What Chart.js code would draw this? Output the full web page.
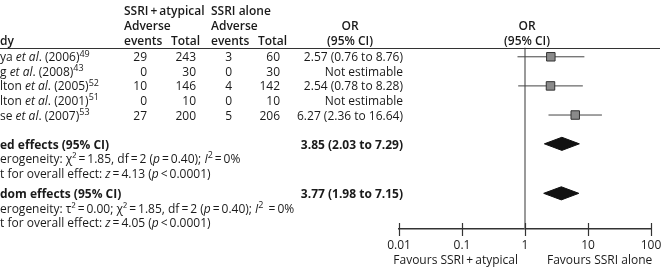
<!DOCTYPE html>
<html>
<head>
<meta charset="utf-8">
<script src="https://cdn.jsdelivr.net/npm/chart.js@4.4.1/dist/chart.umd.min.js"></script>
<style>
  html, body { margin: 0; padding: 0; background: #fff; }
  #wrap { width: 662px; height: 269px; }
</style>
</head>
<body>
<div id="wrap"><canvas id="c" width="662" height="269"></canvas></div>
<script>
// ---------------- data ----------------
const studyNames = [
  'ya *et al*. (2006)^49^',
  'g *et al*. (2008)^43^',
  'lton *et al*. (2005)^52^',
  'lton *et al*. (2001)^51^',
  'se *et al*. (2007)^53^'
];
const comboEvents = [29, 0, 10, 0, 27];
const comboTotal  = [243, 30, 146, 10, 200];
const aloneEvents = [3, 0, 4, 0, 5];
const aloneTotal  = [60, 30, 142, 10, 206];
const orEst  = [2.57, null, 2.54, null, 6.27];
const orLow  = [0.76, null, 0.78, null, 2.36];
const orHigh = [8.76, null, 8.28, null, 16.64];

const pooledNames = ['ed effects (95% CI)', 'dom effects (95% CI)'];
const pooledEst  = [3.85, 3.77];
const pooledLow  = [2.03, 1.98];
const pooledHigh = [7.29, 7.15];
const pooledHet = [
  'erogeneity: χ²\u2009=\u20091.85, df\u2009=\u20092 (*p*\u2009=\u20090.40); *I*^2^\u2009=\u20090%',
  'erogeneity: τ²\u2009=\u20090.00; χ²\u2009=\u20091.85, df\u2009=\u20092 (*p*\u2009=\u20090.40); *I*^2^ \u2009=\u20090%'
];
const pooledTest = [
  't for overall effect: *z*\u2009=\u20094.13 (*p*\u2009<\u20090.0001)',
  't for overall effect: *z*\u2009=\u20094.05 (*p*\u2009<\u20090.0001)'
];

const xTickValues = [0.01, 0.1, 1, 10, 100];
const xTickLabels = ['0.01', '0.1', '1', '10', '100'];
const favourLabels = ['Favours SSRI\u2009+\u2009atypical', 'Favours SSRI alone'];

// ---------------- row layout (row units) ----------------
const studyRows  = [0, 1, 2, 3, 4];
const pooledRows = [6, 9.4];
const Y_MIN = -3.5, Y_MAX = 11.75;   // top of canvas .. axis line
const HEADER_LINE = -0.7;

const FONT = "'Open Sans', 'Noto Sans', sans-serif";
const TXT = '#1a1a1a';

function fmtOR(e, l, h) {
  if (e == null) return 'Not estimable';
  return e.toFixed(2) + ' (' + l.toFixed(2) + ' to ' + h.toFixed(2) + ')';
}

// ---------------- datasets ----------------
const datasets = [];
// squares
datasets.push({
  data: studyRows.map((r, i) => orEst[i] == null ? null : { x: orEst[i], y: r - 0.08 }).filter(Boolean),
  pointStyle: 'rect', pointRadius: 6, pointBackgroundColor: '#8a8a8a',
  pointBorderColor: '#333', pointBorderWidth: 1, showLine: false, order: 0
});
// whiskers
studyRows.forEach((r, i) => {
  if (orEst[i] == null) return;
  datasets.push({
    data: [{ x: orLow[i], y: r - 0.08 }, { x: orHigh[i], y: r - 0.08 }],
    showLine: true, borderColor: '#444', borderWidth: 1, pointRadius: 0, order: 1
  });
});
// diamonds
pooledRows.forEach((r, i) => {
  const h = 0.45;
  const c = r - 0.1;
  datasets.push({
    data: [
      { x: pooledLow[i], y: c }, { x: pooledEst[i], y: c - h },
      { x: pooledHigh[i], y: c }, { x: pooledEst[i], y: c + h },
      { x: pooledLow[i], y: c }
    ],
    showLine: true, fill: 'shape', tension: 0,
    backgroundColor: '#111', borderColor: '#111', borderWidth: 1,
    pointRadius: 0, order: 0
  });
});
// line of no effect
datasets.push({
  data: [{ x: 1, y: HEADER_LINE }, { x: 1, y: Y_MAX }],
  showLine: true, borderColor: '#7a7a7a', borderWidth: 1.5, pointRadius: 0, order: 2
});

// ---------------- rich text helper ----------------
function parseRich(str) {
  const parts = str.split(/(\*[^*]+\*|\^[^^]+\^)/).filter(s => s.length);
  return parts.map(p => {
    if (p[0] === '*') return { t: p.slice(1, -1), st: 'i' };
    if (p[0] === '^') return { t: p.slice(1, -1), st: 'sup' };
    return { t: p, st: 'n' };
  });
}
function drawRich(ctx, str, x, y, align, weight) {
  const segs = parseRich(str);
  const w = weight || 'normal';
  const fontOf = s => s.st === 'i' ? `italic ${w} 12px ${FONT}` :
                     s.st === 'sup' ? `${w} 9px ${FONT}` : `${w} 12px ${FONT}`;
  let total = 0;
  segs.forEach(s => { ctx.font = fontOf(s); total += ctx.measureText(s.t).width; });
  let cx = align === 'right' ? x - total : align === 'center' ? x - total / 2 : x;
  ctx.textAlign = 'left';
  ctx.textBaseline = 'middle';
  segs.forEach(s => {
    ctx.font = fontOf(s);
    ctx.fillText(s.t, cx, s.st === 'sup' ? y - 4 : y);
    cx += ctx.measureText(s.t).width;
  });
}

// ---------------- text / annotation plugin ----------------
const forestText = {
  id: 'forestText',
  afterDraw(chart) {
    const { ctx, scales: { x, y }, chartArea } = chart;
    const Y = k => y.getPixelForValue(k);
    ctx.save();
    ctx.fillStyle = TXT;

    // headers
    const hb = '600';
    drawRich(ctx, 'SSRI\u2009+\u2009atypical', 124, Y(-3.17), 'left', hb);
    drawRich(ctx, 'SSRI alone', 211, Y(-3.17), 'left', hb);
    drawRich(ctx, 'Adverse', 124, Y(-2.13), 'left', hb);
    drawRich(ctx, 'Adverse', 211, Y(-2.13), 'left', hb);
    drawRich(ctx, 'OR', 350, Y(-2.13), 'center', hb);
    drawRich(ctx, 'OR', 527, Y(-2.13), 'center', hb);
    drawRich(ctx, 'dy', 0, Y(-1.1), 'left', hb);
    drawRich(ctx, 'events', 124, Y(-1.1), 'left', hb);
    drawRich(ctx, 'Total', 171, Y(-1.1), 'left', hb);
    drawRich(ctx, 'events', 211, Y(-1.1), 'left', hb);
    drawRich(ctx, 'Total', 258, Y(-1.1), 'left', hb);
    drawRich(ctx, '(95% CI)', 350, Y(-1.1), 'center', hb);
    drawRich(ctx, '(95% CI)', 527, Y(-1.1), 'center', hb);

    // header rule
    ctx.strokeStyle = '#333';
    ctx.lineWidth = 1;
    ctx.beginPath();
    ctx.moveTo(0, Math.round(Y(HEADER_LINE)) + 0.5);
    ctx.lineTo(660, Math.round(Y(HEADER_LINE)) + 0.5);
    ctx.stroke();

    // study rows
    studyRows.forEach((r, i) => {
      const yy = Y(r);
      drawRich(ctx, studyNames[i], 0, yy, 'left');
      drawRich(ctx, String(comboEvents[i]), 147, yy, 'right');
      drawRich(ctx, String(comboTotal[i]), 196, yy, 'right');
      drawRich(ctx, String(aloneEvents[i]), 232, yy, 'right');
      drawRich(ctx, String(aloneTotal[i]), 280, yy, 'right');
      drawRich(ctx, fmtOR(orEst[i], orLow[i], orHigh[i]), 403, yy, 'right');
    });

    // pooled
    pooledRows.forEach((r, i) => {
      drawRich(ctx, pooledNames[i], 0, Y(r), 'left', 'bold');
      drawRich(ctx, fmtOR(pooledEst[i], pooledLow[i], pooledHigh[i]), 403, Y(r), 'right', 'bold');
      drawRich(ctx, pooledHet[i], 0, Y(r + 1), 'left');
      drawRich(ctx, pooledTest[i], 0, Y(r + 2), 'left');
    });

    // axis tick marks crossing the axis
    const ay = chartArea.bottom;
    ctx.strokeStyle = '#333';
    ctx.lineWidth = 1.2;
    xTickValues.forEach(v => {
      const px = Math.round(x.getPixelForValue(v)) + 0.5;
      ctx.beginPath();
      ctx.moveTo(px, ay - 6);
      ctx.lineTo(px, ay + 7);
      ctx.stroke();
    });

    // favours labels
    const x1 = x.getPixelForValue(1);
    drawRich(ctx, favourLabels[0], x1 - 7, 261, 'right');
    drawRich(ctx, favourLabels[1], x1 + 22, 261, 'left');
    ctx.restore();
  }
};

new Chart(document.getElementById('c'), {
  type: 'scatter',
  data: { datasets },
  options: {
    responsive: false,
    animation: false,
    events: [],
    layout: { padding: { left: 399, right: 11, top: 0, bottom: 0 } },
    plugins: { legend: { display: false }, tooltip: { enabled: false } },
    scales: {
      x: {
        type: 'logarithmic',
        position: 'bottom',
        min: xTickValues[0],
        max: xTickValues[xTickValues.length - 1],
        grid: { display: false, drawTicks: false },
        border: { display: true, color: '#333', width: 1.5 },
        ticks: {
          color: TXT,
          font: { family: FONT, size: 12 },
          padding: 9,
          maxRotation: 0,
          autoSkip: false,
          callback: (v) => {
            const i = xTickValues.findIndex(t => Math.abs(t - v) < 1e-9);
            return i >= 0 ? xTickLabels[i] : null;
          }
        },
        afterBuildTicks: (s) => { s.ticks = xTickValues.map(v => ({ value: v })); },
        afterFit: (s) => { s.height = 40; s.paddingLeft = 0; s.paddingRight = 0; }
      },
      y: {
        type: 'linear',
        display: false,
        reverse: true,
        min: Y_MIN,
        max: Y_MAX
      }
    }
  },
  plugins: [forestText]
});
</script>
</body>
</html>
